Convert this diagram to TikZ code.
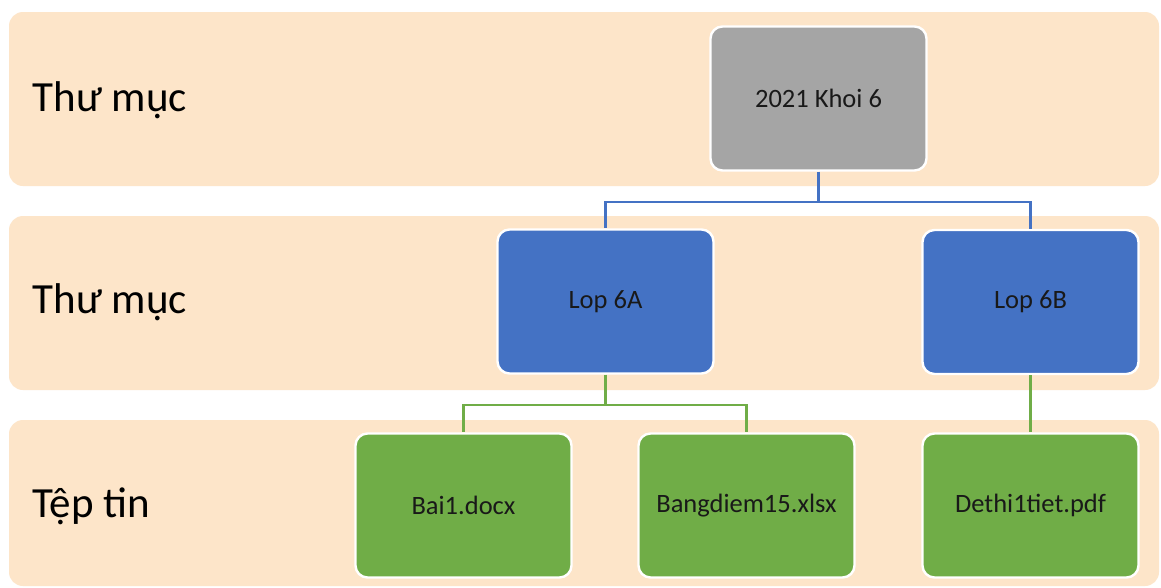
\documentclass[tikz,border=0pt]{standalone}
\usepackage{fontspec}
\setmainfont{Carlito}
\definecolor{bandc}{HTML}{FDE5C9}
\definecolor{grayc}{HTML}{A5A5A5}
\definecolor{bluec}{HTML}{4472C4}
\definecolor{greenc}{HTML}{70AD47}
\tikzset{
  band/.style={fill=bandc, draw=none, rounded corners=14pt},
  lbl/.style={anchor=west, font=\fontsize{43}{50}\selectfont, text=black},
  box/.style={rounded corners=12pt, draw=white, line width=2.4pt, minimum width=216pt, minimum height=144pt, font=\fontsize{26.5}{31}\selectfont, text=black!90},
  graybox/.style={box, fill=grayc},
  bluebox/.style={box, fill=bluec},
  greenbox/.style={box, fill=greenc},
  bline/.style={draw=bluec, line width=2.2pt},
  gline/.style={draw=greenc, line width=2.2pt}
}
\begin{document}
\begin{tikzpicture}[x=1pt,y=-1pt]
\useasboundingbox (0,0) rectangle (1161,587);
\fill[white] (0,0) rectangle (1161,587);
% bands
\path[band] (9,12) rectangle (1159,186);
\path[band] (9,216) rectangle (1159,390);
\path[band] (9,420) rectangle (1159,586);
% labels
\node[lbl] (l1) at (29,100) {Thư mục};
\node[lbl] (l2) at (29,302) {Thư mục};
\node[lbl] (l3) at (29,506) {Tệp tin};
% nodes
\node[graybox] (root) at (818.5,98.5) {2021 Khoi 6};
\node[bluebox] (a) at (605.5,301.5) {Lop 6A};
\node[bluebox] (b) at (1030.5,302) {Lop 6B};
\node[greenbox] (f1) at (463.5,505.5) {Bai1.docx};
\node[greenbox] (f2) at (746.5,505.5) {Bangdiem15.xlsx};
\node[greenbox] (f3) at (1030.5,505.5) {Dethi1tiet.pdf};
% connectors
\draw[bline] (root.south) -- ++(0,30) -| (a.north);
\draw[bline] (root.south) ++(0,30) -| (b.north);
\draw[gline] (a.south) -- ++(0,30) -| (f1.north);
\draw[gline] (a.south) ++(0,30) -| (f2.north);
\draw[gline] (b.south) -- (f3.north);
\end{tikzpicture}
\end{document}
